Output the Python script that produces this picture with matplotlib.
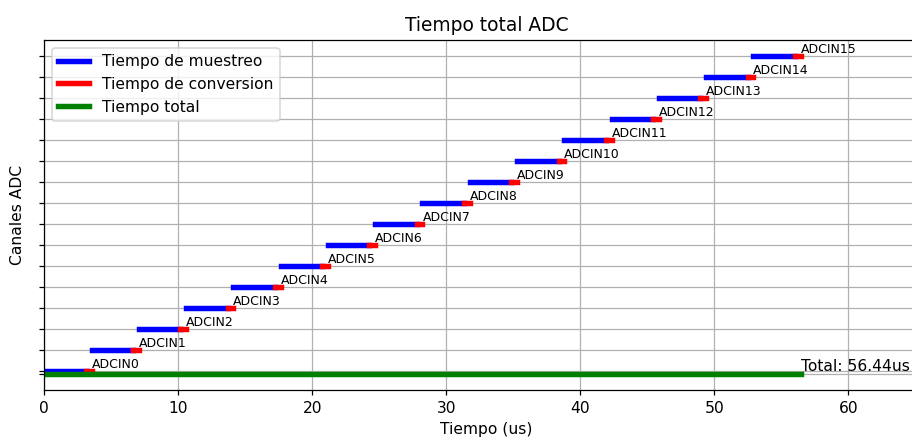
import matplotlib
matplotlib.use('Agg')
import matplotlib.pyplot as plt
import numpy as np

# datos (us)
canales = ['ADCIN%d' % i for i in range(16)]
t_muestreo = [3.1, 3.1, 3.1, 3.1, 3.1, 3.1, 3.1, 3.1,
              3.1, 3.1, 3.1, 3.1, 3.1, 3.1, 3.1, 3.1]
t_conversion = [0.4275, 0.4275, 0.4275, 0.4275, 0.4275, 0.4275, 0.4275, 0.4275,
                0.4275, 0.4275, 0.4275, 0.4275, 0.4275, 0.4275, 0.4275, 0.4275]
y_total = -0.15

DPI = 112
fig = plt.figure(figsize=(912 / DPI, 438 / DPI), dpi=DPI)
ax = fig.add_axes([0.0486, 0.1096, 0.9697, 0.7991])

lw = 3.5
inicio = np.concatenate(([0], np.cumsum(np.array(t_muestreo) + np.array(t_conversion))[:-1]))
total = sum(t_muestreo) + sum(t_conversion)

for i, nombre in enumerate(canales):
    t0 = inicio[i]
    t1 = t0 + t_muestreo[i]
    t2 = t1 + t_conversion[i]
    ax.plot([t0, t1], [i, i], color='blue', linewidth=lw,
            label='Tiempo de muestreo' if i == 0 else None)
    ax.plot([t1, t2], [i, i], color='red', linewidth=lw,
            label='Tiempo de conversion' if i == 0 else None)
    ax.text(t2, i, nombre, fontsize=8, va='bottom')

ax.plot([0, total], [y_total, y_total], color='green', linewidth=lw, label='Tiempo total')
ax.text(total, y_total, 'Total: %.2fus' % total, fontsize=10, va='bottom')

ax.set_yticks(list(range(len(canales))) + [y_total])
ax.set_yticklabels([])
ax.set_xlim(0, 66)
ax.grid(True)

ax.set_title('Tiempo total ADC')
ax.set_xlabel('Tiempo (us)')
ax.set_ylabel('Canales ADC', labelpad=5.5)
ax.legend(loc='upper left')

fig.savefig('out.png', dpi=DPI)
